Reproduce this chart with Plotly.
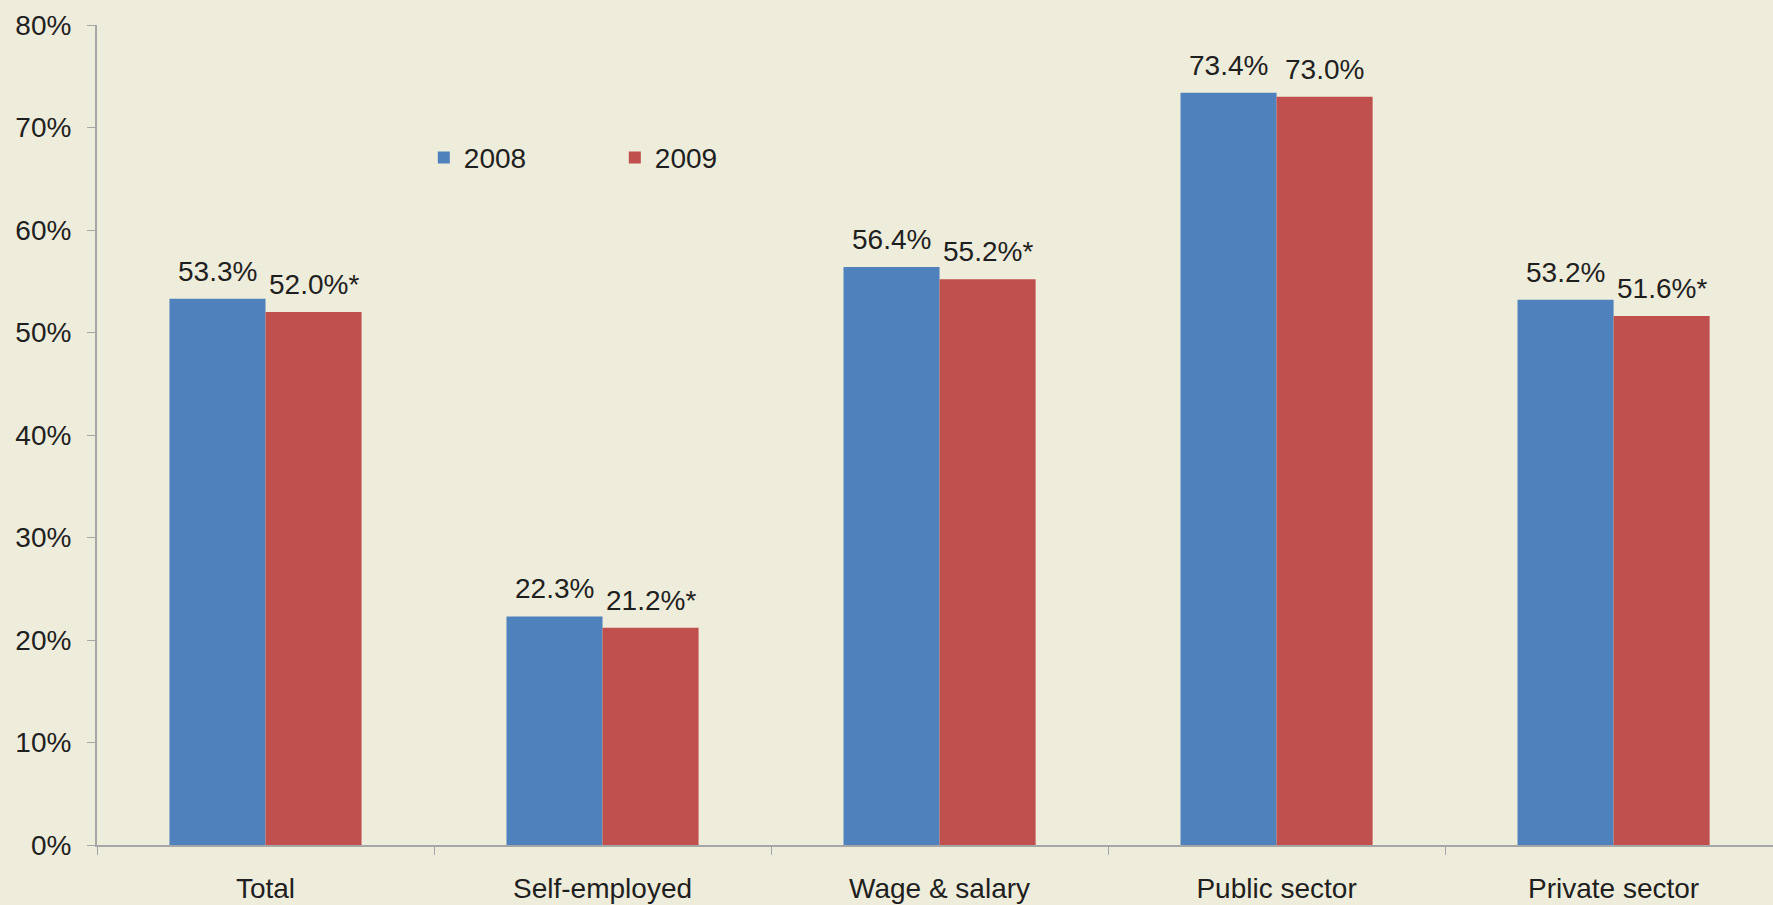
import plotly.graph_objects as go

categories = ["Total", "Self-employed", "Wage & salary", "Public sector", "Private sector"]
values_2008 = [53.3, 22.3, 56.4, 73.4, 53.2]
values_2009 = [52.0, 21.2, 55.2, 73.0, 51.6]
flags_2009 = ["*", "*", "*", "", "*"]
y_ticks = [0, 10, 20, 30, 40, 50, 60, 70, 80]
y_tick_labels = [f"{v}%" for v in y_ticks]

BG = "#EEECDA"
FONT = "Liberation Sans, Arial, sans-serif"
TXT = "#1f1f1f"

fig = go.Figure()
fig.add_trace(go.Bar(
    name="2008", x=categories, y=values_2008,
    marker=dict(color="#4F81BD", line=dict(width=0)),
))
fig.add_trace(go.Bar(
    name="2009", x=categories, y=values_2009,
    marker=dict(color="#C0504D", line=dict(width=0)),
))

annotations = []
for cat, v in zip(categories, values_2008):
    annotations.append(dict(
        x=cat, y=v, xref="x", yref="y", text=f"{v:.1f}%", showarrow=False,
        xanchor="center", yanchor="bottom", xshift=-48, yshift=10,
        font=dict(size=28, color=TXT, family=FONT),
    ))
for cat, v, f in zip(categories, values_2009, flags_2009):
    annotations.append(dict(
        x=cat, y=v, xref="x", yref="y", text=f"{v:.1f}%{f}", showarrow=False,
        xanchor="center", yanchor="bottom", xshift=48, yshift=10,
        font=dict(size=28, color=TXT, family=FONT),
    ))

fig.update_layout(
    width=1773, height=905,
    margin=dict(l=97, r=0, t=25, b=60),
    paper_bgcolor=BG, plot_bgcolor=BG,
    barmode="group", bargap=0.43, bargroupgap=0,
    font=dict(family=FONT, size=28, color=TXT),
    showlegend=True,
    annotations=annotations,
    legend=dict(
        orientation="h", x=0.195, y=0.838, xanchor="left", yanchor="middle",
        bgcolor="rgba(0,0,0,0)", font=dict(size=28, color=TXT),
        entrywidth=146, entrywidthmode="pixels", itemwidth=30,
    ),
    xaxis=dict(
        range=[-0.5, 4.473],
        showline=True, linecolor="#A6A6A6", linewidth=2,
        ticks="outside", tickson="boundaries", ticklen=8, tickcolor="#A6A6A6",
        showgrid=False, zeroline=False, ticklabelstandoff=17,
        tickfont=dict(size=28, color=TXT),
    ),
    yaxis=dict(
        range=[0, 80], tickvals=y_ticks, ticktext=y_tick_labels,
        showline=True, linecolor="#A6A6A6", linewidth=2,
        ticks="outside", ticklen=8, tickcolor="#A6A6A6",
        showgrid=False, zeroline=False, ticklabelstandoff=10,
        tickfont=dict(size=28, color=TXT),
    ),
)

fig.write_html(
    "out.html",
    config={"displayModeBar": False},
    post_script="document.body.style.margin='0';document.body.style.overflow='hidden';",
)
